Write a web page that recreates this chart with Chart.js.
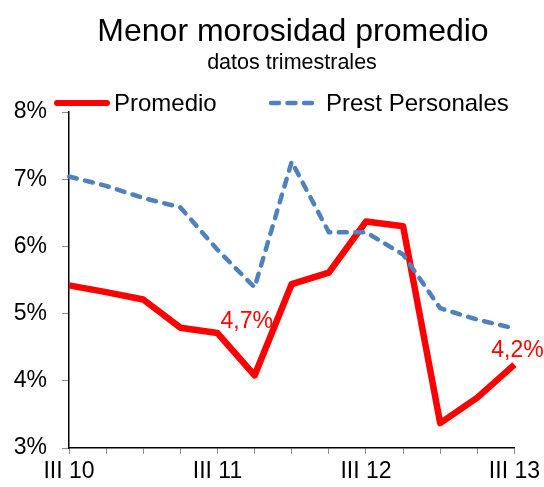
<!DOCTYPE html>
<html>
<head>
<meta charset="utf-8">
<script src="https://cdn.jsdelivr.net/npm/chart.js@4.4.1/dist/chart.umd.min.js"></script>
<style>
  html, body { margin: 0; padding: 0; background: #ffffff; }
  #wrap { width: 544px; height: 487px; position: relative; }
</style>
</head>
<body>
<div id="wrap"><canvas id="c" width="544" height="487"></canvas></div>
<script>
// ---- data ----
const titleText = 'Menor morosidad promedio';
const subtitleText = 'datos trimestrales';
const categories = ['III 10','IV 10','I 11','II 11','III 11','IV 11','I 12','II 12','III 12','IV 12','I 13','II 13','III 13'];
const shownTickLabels = ['III 10','III 11','III 12','III 13'];
const seriesNames = ['Promedio', 'Prest Personales'];
const promedio = [5.42, 5.32, 5.21, 4.79, 4.71, 4.08, 5.44, 5.61, 6.37, 6.30, 3.37, 3.75, 4.24];
const prestPersonales = [7.04, 6.90, 6.72, 6.58, 5.95, 5.39, 7.26, 6.21, 6.21, 5.88, 5.08, 4.91, 4.78];
const yTicks = [3, 4, 5, 6, 7, 8];
const pointLabelIndex = [4, 12];
const pointLabelText = ['4,7%', '4,2%'];

const FONT = "'Liberation Sans', Arial, sans-serif";
const RED = '#FF0000';
const BLUE = '#4F81BD';

const decor = {
  id: 'decor',
  afterDraw(chart) {
    const ctx = chart.ctx;
    ctx.save();
    // title
    ctx.fillStyle = '#000';
    ctx.textAlign = 'center';
    ctx.textBaseline = 'alphabetic';
    ctx.font = '32px ' + FONT;
    ctx.fillText(titleText, 293, 41);
    ctx.font = '21.5px ' + FONT;
    ctx.fillText(subtitleText, 292, 69);
    // legend
    ctx.lineWidth = 6;
    ctx.lineCap = 'round';
    ctx.strokeStyle = RED;
    ctx.beginPath(); ctx.moveTo(57, 103); ctx.lineTo(107, 103); ctx.stroke();
    ctx.lineWidth = 4.5;
    ctx.strokeStyle = BLUE;
    ctx.setLineDash([8, 8.5]);
    ctx.beginPath(); ctx.moveTo(271, 103); ctx.lineTo(316, 103); ctx.stroke();
    ctx.setLineDash([]);
    ctx.textAlign = 'left';
    ctx.font = '24px ' + FONT;
    ctx.fillStyle = '#000';
    ctx.fillText(seriesNames[0], 114, 111);
    ctx.fillText(seriesNames[1], 326, 111);
    // point labels
    const xs = chart.scales.x, ys = chart.scales.y;
    ctx.fillStyle = RED;
    ctx.font = '23px ' + FONT;
    pointLabelIndex.forEach((idx, k) => {
      const px = xs.getPixelForValue(idx);
      const py = ys.getPixelForValue(promedio[idx]);
      if (k === 0) { ctx.textAlign = 'left'; ctx.fillText(pointLabelText[k], px + 3, py - 5); }
      else { ctx.textAlign = 'center'; ctx.fillText(pointLabelText[k], px + 3, py - 8); }
    });
    ctx.restore();
  }
};

new Chart(document.getElementById('c'), {
  type: 'line',
  data: {
    labels: categories,
    datasets: [
      { label: seriesNames[0], data: promedio, borderColor: RED, borderWidth: 6.5,
        pointRadius: 0, tension: 0, order: 1, borderJoinStyle: 'round', borderCapStyle: 'butt' },
      { label: seriesNames[1], data: prestPersonales, borderColor: BLUE, borderWidth: 4.5,
        borderDash: [8, 8.5], borderCapStyle: 'round', borderJoinStyle: 'round',
        pointRadius: 0, tension: 0, order: 0 }
    ]
  },
  options: {
    responsive: false,
    animation: false,
    layout: { padding: { top: 112, right: 28, left: 0, bottom: 0 } },
    plugins: { legend: { display: false }, tooltip: { enabled: false }, title: { display: false } },
    scales: {
      x: {
        type: 'category',
        offset: false,
        grid: { display: true, drawOnChartArea: false, drawTicks: true, tickLength: 6, color: '#8c8c8c' },
        border: { display: true, color: '#000', width: 1.5 },
        ticks: {
          autoSkip: false, maxRotation: 0, padding: 4, color: '#000',
          font: { family: FONT, size: 23 },
          callback: function(v) { const l = this.getLabelForValue(v); return shownTickLabels.includes(l) ? l : ''; }
        },
        afterFit(s) { s.height = 39; }
      },
      y: {
        min: 3, max: 8,
        grid: { display: true, drawOnChartArea: false, drawTicks: true, tickLength: 7, color: '#8c8c8c' },
        border: { display: true, color: '#000', width: 1.5 },
        afterBuildTicks(s) { s.ticks = yTicks.map(v => ({ value: v })); },
        ticks: {
          padding: 15, color: '#000', font: { family: FONT, size: 23 },
          callback: v => v + '%'
        },
        afterFit(s) { s.width = 69; }
      }
    }
  },
  plugins: [decor]
});
</script>
</body>
</html>
